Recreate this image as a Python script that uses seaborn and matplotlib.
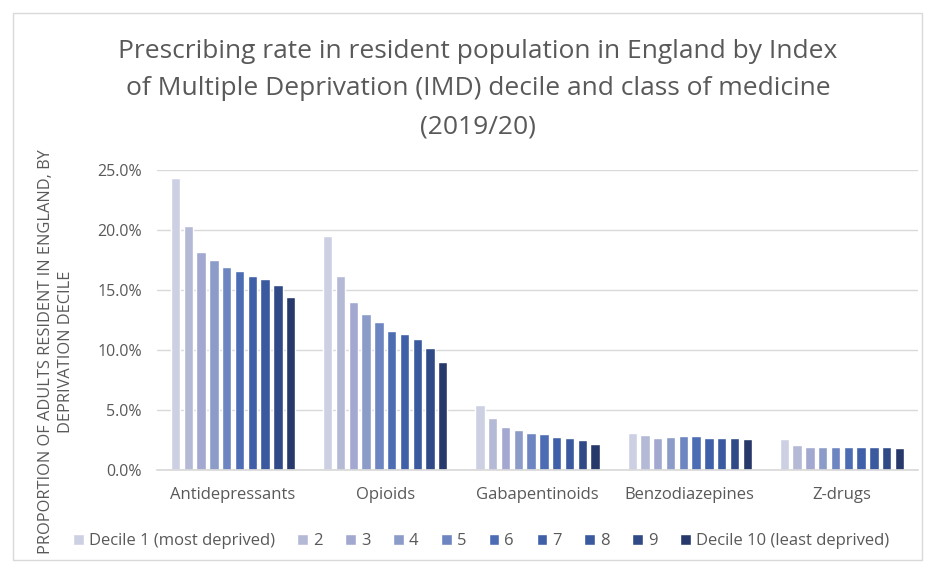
import pandas as pd
import matplotlib.pyplot as plt
import seaborn as sns
from matplotlib.ticker import PercentFormatter
from matplotlib.patches import Rectangle

# data (percent of adults)
classes = ["Antidepressants", "Opioids", "Gabapentinoids", "Benzodiazepines", "Z-drugs"]
deciles = ["Decile 1 (most deprived)", "2", "3", "4", "5", "6", "7", "8", "9",
           "Decile 10 (least deprived)"]
antidepressants = [24.3, 20.3, 18.2, 17.5, 16.9, 16.6, 16.2, 15.9, 15.4, 14.4]
opioids = [19.5, 16.2, 14.0, 13.0, 12.3, 11.6, 11.3, 10.9, 10.2, 9.0]
gabapentinoids = [5.4, 4.3, 3.6, 3.3, 3.1, 3.0, 2.75, 2.65, 2.5, 2.2]
benzodiazepines = [3.1, 2.9, 2.7, 2.75, 2.8, 2.8, 2.7, 2.7, 2.7, 2.55]
z_drugs = [2.55, 2.1, 1.9, 1.95, 1.9, 1.9, 1.9, 1.9, 1.9, 1.8]

colors = ["#cdd0e3", "#b4b9d6", "#a2a8d0", "#8c9cc8", "#6d85c0",
          "#4c6db4", "#3f5fa8", "#3a599e", "#2f4a86", "#27396a"]

rows = []
for cls, vals in zip(classes, [antidepressants, opioids, gabapentinoids, benzodiazepines, z_drugs]):
    for dec, v in zip(deciles, vals):
        rows.append({"class": cls, "decile": dec, "rate": v})
df = pd.DataFrame(rows)

sns.set_theme(style="white")
plt.rcParams['font.family'] = ['Open Sans', 'DejaVu Sans']

fig = plt.figure(figsize=(9.31, 5.67), dpi=100)
ax = fig.add_axes([157 / 931, 1 - 470 / 567, (918 - 157) / 931, 300 / 567])

sns.barplot(data=df, x="class", y="rate", hue="decile", order=classes,
            hue_order=deciles, palette=colors, width=0.84, gap=0.27,
            saturation=1, ax=ax, legend=True)

ax.set_ylim(0, 25)
ax.set_yticks([0, 5, 10, 15, 20, 25])
ax.yaxis.set_major_formatter(PercentFormatter(xmax=100, decimals=1))
ax.yaxis.grid(True, color="#d9d9d9", linewidth=1)
ax.set_axisbelow(True)
ax.set_xlabel("")
ax.set_ylabel("")
ax.tick_params(axis='y', length=0, labelsize=11.5, labelcolor="#595959", pad=11)
ax.tick_params(axis='x', length=0, labelsize=12, labelcolor="#595959", pad=12)
for s in ["top", "right", "left"]:
    ax.spines[s].set_visible(False)
ax.spines["bottom"].set_color("#d9d9d9")

# legend along the bottom
handles, labels = ax.get_legend_handles_labels()
ax.get_legend().remove()
fig.legend(handles, labels, loc="center", bbox_to_anchor=(481 / 931, 1 - 541 / 567),
           ncol=10, frameon=False, handlelength=0.65, handleheight=0.65,
           handletextpad=0.3, columnspacing=1.35,
           prop={'size': 12}, labelcolor="#595959")

# title
fig.text(478 / 931, 1 - 89 / 567,
         "Prescribing rate in resident population in England by Index\n"
         "of Multiple Deprivation (IMD) decile and class of medicine\n(2019/20)",
         ha="center", va="center", fontsize=19, color="#595959", linespacing=1.68)

# y axis label
fig.text(56 / 931, 1 - 352 / 567,
         "PROPORTION OF ADULTS RESIDENT IN ENGLAND, BY\nDEPRIVATION DECILE",
         ha="center", va="center", rotation=90, fontsize=11.8, color="#595959",
         linespacing=1.27)

# outer border of the chart area
fig.patches.append(Rectangle((13 / 931, 1 - 560 / 567), (922 - 13) / 931, (560 - 13) / 567,
                             transform=fig.transFigure, fill=False,
                             edgecolor="#d9d9d9", linewidth=1))

fig.savefig("out.png", dpi=100, facecolor="white")
